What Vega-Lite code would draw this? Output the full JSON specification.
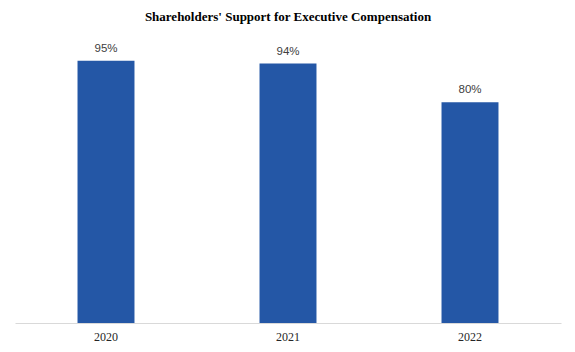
{
  "$schema": "https://vega.github.io/schema/vega-lite/v6.json",
  "width": 546,
  "height": 276,
  "autosize": "none",
  "padding": {"left": 15, "top": 47, "right": 14, "bottom": 29},
  "background": "white",
  "config": {"view": {"stroke": null}, "font": "Liberation Serif"},
  "title": {
    "text": "Shareholders' Support for Executive Compensation",
    "font": "Liberation Serif",
    "fontSize": 13,
    "fontWeight": "bold",
    "color": "#000000",
    "anchor": "middle",
    "offset": 19
  },
  "data": {
    "values": [
      {"year": "2020", "support": 0.95},
      {"year": "2021", "support": 0.94},
      {"year": "2022", "support": 0.80}
    ]
  },
  "encoding": {
    "x": {
      "field": "year",
      "type": "nominal",
      "title": null,
      "scale": {"paddingInner": 0.687, "paddingOuter": 0.3435},
      "axis": {
        "labelAngle": 0,
        "labelFont": "Liberation Serif",
        "labelFontSize": 12,
        "labelColor": "#262626",
        "labelPadding": 8,
        "ticks": false,
        "domainColor": "#d9d9d9",
        "domainWidth": 1
      }
    },
    "y": {
      "field": "support",
      "type": "quantitative",
      "scale": {"domain": [0, 1]},
      "axis": null
    }
  },
  "layer": [
    {"mark": {"type": "bar", "color": "#2457A6"}},
    {
      "mark": {"type": "text", "baseline": "bottom", "dy": -7, "font": "Liberation Sans", "fontSize": 11.5, "fill": "#404040"},
      "encoding": {"text": {"field": "support", "type": "quantitative", "format": ".0%"}}
    }
  ]
}
